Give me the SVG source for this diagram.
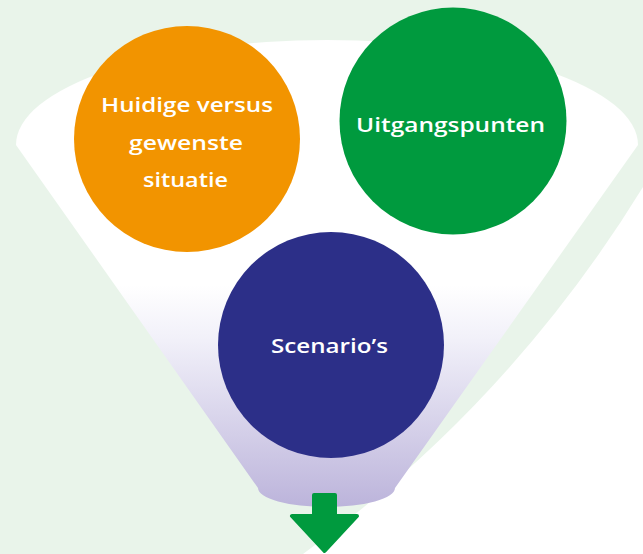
<svg xmlns="http://www.w3.org/2000/svg" width="643" height="554" viewBox="0 0 643 554">
  <defs>
    <linearGradient id="funnelGrad" gradientUnits="userSpaceOnUse" x1="0" y1="285" x2="0" y2="507">
      <stop offset="0" stop-color="#ffffff"/>
      <stop offset="0.25" stop-color="#f1f0f9"/>
      <stop offset="1" stop-color="#bcb4db"/>
    </linearGradient>
    <style>
      .label { font-family: "Open Sans", "Liberation Sans", sans-serif; font-weight: 600; font-size: 20.5px; fill: #ffffff; text-anchor: middle; }
    </style>
  </defs>

  <rect x="0" y="0" width="643" height="554" fill="#ffffff"/>
  <path d="M0,0 H643 V187 A1283,1283 0 0 1 303,554 H0 Z" fill="#e9f4ea"/>

  <path id="funnel" d="M16,145 A311,105 0 0 1 638,145 L395,488 A68.5,19 0 0 1 258,488 Z" fill="url(#funnelGrad)"/>

  <g id="node-huidige">
    <circle cx="187" cy="139" r="113" fill="#f29400"/>
    <text class="label" x="187" y="112.3" textLength="172" lengthAdjust="spacingAndGlyphs">Huidige versus</text>
    <text class="label" x="186" y="150" textLength="114" lengthAdjust="spacingAndGlyphs">gewenste</text>
    <text class="label" x="185.5" y="186.7" textLength="85" lengthAdjust="spacingAndGlyphs">situatie</text>
  </g>

  <g id="node-uitgangspunten">
    <circle cx="453" cy="121" r="113.5" fill="#009a3e"/>
    <text class="label" x="450.5" y="131.7" textLength="189" lengthAdjust="spacingAndGlyphs">Uitgangspunten</text>
  </g>

  <g id="node-scenarios">
    <circle cx="331" cy="345" r="113" fill="#2c2f88"/>
    <text class="label" x="329.5" y="353.3" textLength="117" lengthAdjust="spacingAndGlyphs">Scenario’s</text>
  </g>

  <g id="connectors">
    <path d="M314,495 H335 V516 H357 L324.5,551 L292,516 H314 Z" fill="#009a3e" stroke="#009a3e" stroke-width="4" stroke-linejoin="round"/>
  </g>
</svg>
